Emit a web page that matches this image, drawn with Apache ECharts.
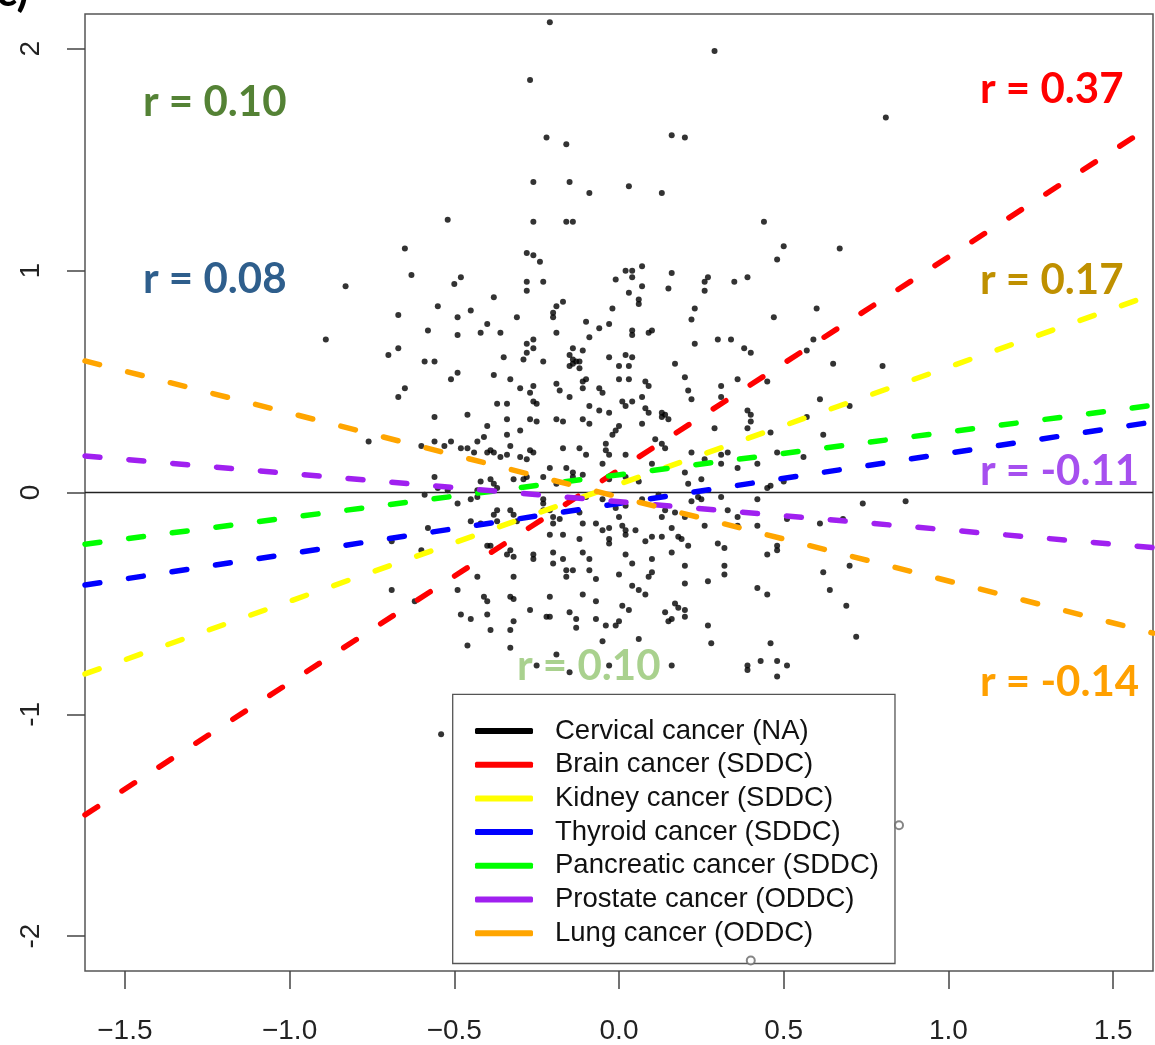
<!DOCTYPE html>
<html>
<head>
<meta charset="utf-8">
<script src="https://cdn.jsdelivr.net/npm/echarts@6/dist/echarts.min.js"></script>
<style>
html,body{margin:0;padding:0;background:#fff;}
#chart{width:1155px;height:1045px;}
</style>
</head>
<body>
<div id="chart"></div>
<script>
// ---- data ----
const xRange = [-1.621, 1.621];
const yRange = [-2.157, 2.157];
const xTicks = [-1.5, -1.0, -0.5, 0.0, 0.5, 1.0, 1.5];
const xTickLabels = ['\u22121.5', '\u22121.0', '\u22120.5', '0.0', '0.5', '1.0', '1.5'];
const yTicks = [-2, -1, 0, 1, 2];
const yTickLabels = ['-2', '-1', '0', '1', '2'];

const seriesNames = ['Cervical cancer (NA)', 'Brain cancer (SDDC)', 'Kidney cancer (SDDC)', 'Thyroid cancer (SDDC)',
  'Pancreatic cancer (SDDC)', 'Prostate cancer (ODDC)', 'Lung cancer (ODDC)'];
const seriesColors = ['#000000', '#FF0000', '#FFFF00', '#0000FF', '#00FF00', '#A020F0', '#FFA500'];
// fitted line values at the left (x = xRange[0]) and right (x = xRange[1]) edges
const fitLeft = [0, -1.453, -0.818, -0.417, -0.233, 0.165, 0.593];
const fitRight = [0, 1.658, 0.893, 0.318, 0.393, -0.248, -0.634];

const rLabels = ['r = 0.10', 'r = 0.08', 'r = 0.37', 'r = 0.17', 'r = -0.11', 'r = 0.10', 'r = -0.14'];
const rColors = ['#548235', '#2E5E8C', '#FF0000', '#BF9000', '#A64FEF', '#A9D18E', '#FFA000'];

const cervicalPoints = [
[-0.21,2.12],[0.29,1.99],[-0.27,1.86],[0.16,1.61],[0.20,1.60],[-0.22,1.60],[-0.16,1.57],[-0.26,1.40],[-0.15,1.40],[-0.09,1.35],
[0.03,1.38],[0.13,1.35],[-0.52,1.23],[-0.26,1.22],[-0.16,1.22],[-0.14,1.22],[0.44,1.22],[-0.65,1.10],[-0.28,1.08],[-0.26,1.07],
[-0.24,1.04],[0.48,1.05],[-0.63,0.98],[-0.48,0.97],[-0.50,0.94],[-0.28,0.95],[-0.23,0.95],[-0.28,0.91],[-0.01,0.96],[0.02,1.00],
[0.04,1.00],[0.07,1.02],[0.04,0.97],[0.07,0.93],[0.03,0.90],[0.06,0.87],[0.16,0.99],[0.15,0.92],[0.27,0.97],[0.26,0.95],
[0.26,0.91],[0.35,0.95],[0.39,0.97],[-0.38,0.88],[0.81,1.69],[0.50,1.11],[0.67,1.10],[-0.83,0.93],[-0.89,0.69],[-0.67,0.80],
[-0.70,0.62],[-0.67,0.65],[-0.67,0.43],[-0.76,0.23],[-0.69,-0.22],[0.06,0.85],[-0.55,0.84],[-0.49,0.79],[-0.45,0.82],[-0.31,0.79],
[-0.19,0.84],[-0.17,0.86],[-0.20,0.81],[-0.20,0.79],[-0.02,0.83],[-0.10,0.77],[-0.03,0.76],[-0.06,0.74],[0.04,0.73],[0.04,0.71],
[0.09,0.72],[0.10,0.73],[0.22,0.78],[0.23,0.83],[0.30,0.69],[0.34,0.69],[0.47,0.79],[-0.58,0.73],[-0.49,0.71],[-0.42,0.72],
[-0.40,0.76],[-0.36,0.72],[-0.19,0.72],[-0.09,0.70],[-0.59,0.59],[-0.56,0.59],[-0.51,0.51],[-0.49,0.54],[-0.38,0.53],[-0.35,0.61],
[-0.28,0.67],[-0.26,0.69],[-0.26,0.65],[-0.28,0.63],[-0.29,0.60],[-0.23,0.59],[-0.14,0.65],[-0.11,0.64],[-0.15,0.62],[-0.14,0.60],
[-0.13,0.59],[-0.12,0.59],[-0.15,0.57],[-0.14,0.58],[-0.12,0.56],[-0.03,0.61],[0.02,0.62],[0.04,0.61],[0.00,0.57],[0.03,0.57],
[0.17,0.58],[0.23,0.67],[0.38,0.65],[0.40,0.63],[-0.65,0.47],[-0.33,0.51],[-0.30,0.47],[-0.26,0.48],[-0.27,0.45],[-0.26,0.41],
[-0.25,0.40],[-0.19,0.49],[-0.18,0.46],[-0.15,0.43],[-0.10,0.51],[-0.11,0.50],[-0.11,0.47],[-0.06,0.47],[-0.05,0.45],[0.00,0.51],
[0.03,0.51],[0.08,0.50],[0.09,0.48],[0.20,0.52],[0.21,0.46],[0.22,0.42],[0.31,0.48],[0.31,0.43],[0.36,0.51],[0.45,0.50],
[-0.37,0.40],[-0.34,0.40],[-0.56,0.34],[-0.46,0.35],[-0.40,0.30],[-0.34,0.33],[-0.27,0.33],[-0.25,0.32],[-0.19,0.33],[-0.17,0.32],
[-0.11,0.33],[-0.09,0.31],[-0.09,0.39],[-0.06,0.37],[-0.03,0.36],[0.01,0.41],[0.02,0.39],[0.04,0.41],[0.07,0.43],[0.08,0.38],
[0.09,0.36],[0.13,0.36],[0.14,0.35],[0.13,0.34],[0.15,0.33],[0.07,0.31],[0.00,0.30],[-0.01,0.28],[-0.02,0.26],[0.29,0.29],
[0.39,0.37],[0.40,0.35],[0.40,0.32],[0.39,0.29],[0.46,0.27],[-0.56,0.23],[-0.53,0.21],[-0.51,0.23],[-0.60,0.21],[-0.48,0.20],
[-0.46,0.20],[-0.44,0.18],[-0.43,0.23],[-0.41,0.25],[-0.40,0.18],[-0.39,0.19],[-0.38,0.18],[-0.36,0.16],[-0.34,0.26],[-0.33,0.21],
[-0.34,0.17],[-0.30,0.28],[-0.30,0.16],[-0.28,0.15],[-0.27,0.19],[-0.26,0.18],[-0.17,0.20],[-0.12,0.20],[-0.10,0.17],[-0.04,0.22],
[-0.04,0.19],[-0.03,0.17],[0.02,0.17],[0.11,0.24],[0.13,0.22],[0.14,0.20],[0.22,0.18],[0.31,0.17],[0.33,0.18],[-0.05,0.13],
[-0.16,0.11],[-0.14,0.09],[-0.21,0.11],[0.10,0.13],[0.26,0.15],[0.31,0.13],[0.36,0.11],[0.42,0.13],[0.48,0.18],[-0.56,0.07],
[-0.42,0.05],[-0.39,0.06],[-0.38,0.04],[-0.32,0.06],[-0.29,0.06],[-0.28,0.07],[-0.23,0.07],[-0.19,0.04],[-0.14,0.07],[-0.11,0.08],
[-0.03,0.06],[0.02,0.07],[0.06,0.05],[0.20,0.09],[0.21,0.04],[0.25,0.06],[0.45,0.02],[0.46,0.03],[-0.55,0.02],[-0.52,0.01],
[-0.43,0.01],[-0.37,0.02],[-0.59,-0.01],[-0.45,-0.03],[-0.43,-0.02],[-0.23,-0.03],[-0.23,-0.05],[-0.23,-0.08],[-0.21,-0.08],[-0.10,-0.02],
[-0.05,-0.03],[0.07,-0.03],[0.12,-0.01],[0.24,-0.02],[0.25,-0.03],[0.31,-0.02],[0.42,-0.03],[-0.49,-0.05],[-0.37,-0.08],[-0.33,-0.08],
[-0.18,-0.12],[-0.12,-0.09],[-0.11,-0.14],[-0.01,-0.07],[0.00,-0.11],[0.02,-0.06],[0.14,-0.08],[0.13,-0.11],[0.17,-0.09],[0.22,-0.04],
[0.20,-0.11],[0.33,-0.08],[0.36,-0.11],[-0.45,-0.13],[-0.42,-0.14],[-0.38,-0.10],[-0.37,-0.13],[-0.32,-0.10],[-0.31,-0.13],[-0.20,-0.11],
[-0.20,-0.14],[-0.07,-0.14],[-0.05,-0.17],[-0.03,-0.16],[0.01,-0.15],[0.02,-0.17],[0.02,-0.19],[0.05,-0.17],[0.16,-0.16],[0.26,-0.15],
[0.36,-0.15],[0.42,-0.15],[-0.58,-0.16],[-0.40,-0.24],[-0.39,-0.24],[-0.21,-0.19],[-0.17,-0.19],[-0.12,-0.21],[-0.03,-0.21],[-0.03,-0.23],
[0.08,-0.22],[0.10,-0.20],[0.13,-0.20],[0.18,-0.20],[0.19,-0.21],[0.21,-0.24],[0.30,-0.23],[0.32,-0.25],[-0.60,-0.26],[-0.34,-0.28],
[-0.33,-0.26],[-0.32,-0.29],[-0.26,-0.28],[-0.26,-0.30],[-0.20,-0.27],[-0.17,-0.30],[-0.11,-0.27],[-0.09,-0.30],[0.02,-0.28],[0.10,-0.30],
[0.16,-0.27],[0.20,-0.33],[0.32,-0.33],[0.45,-0.28],[-0.20,-0.32],[-0.16,-0.35],[-0.14,-0.35],[-0.09,-0.35],[-0.32,-0.38],[-0.16,-0.38],
[-0.43,-0.38],[0.00,-0.37],[0.10,-0.36],[0.09,-0.38],[0.32,-0.37],[0.60,0.83],[0.59,0.69],[0.57,0.64],[0.65,0.58],[0.80,0.57],
[0.61,0.42],[0.70,0.39],[0.57,0.34],[0.62,0.26],[0.56,0.16],[0.50,0.05],[0.74,-0.05],[0.87,-0.04],[0.51,-0.12],[0.61,-0.14],
[0.68,-0.12],[0.48,-0.24],[0.48,-0.26],[0.62,-0.36],[0.70,-0.33],[-0.07,-0.39],[0.04,-0.32],[0.27,-0.40],[0.20,-0.41],[-0.69,-0.44],
[-0.62,-0.49],[-0.49,-0.44],[-0.41,-0.47],[-0.40,-0.49],[-0.33,-0.47],[-0.32,-0.48],[-0.21,-0.47],[-0.11,-0.46],[-0.07,-0.49],[0.04,-0.42],
[0.06,-0.44],[0.08,-0.46],[0.01,-0.51],[0.03,-0.53],[0.17,-0.50],[0.18,-0.52],[0.20,-0.53],[0.14,-0.54],[0.42,-0.43],[0.45,-0.46],
[-0.48,-0.55],[-0.45,-0.57],[-0.40,-0.55],[-0.32,-0.58],[-0.27,-0.53],[-0.22,-0.56],[-0.21,-0.56],[-0.15,-0.54],[-0.13,-0.57],[-0.07,-0.57],
[-0.04,-0.60],[-0.01,-0.60],[0.00,-0.58],[0.16,-0.57],[0.15,-0.58],[0.20,-0.56],[-0.39,-0.62],[-0.33,-0.62],[-0.13,-0.61],[0.27,-0.60],
[-0.46,-0.69],[-0.33,-0.70],[-0.05,-0.67],[0.06,-0.66],[0.28,-0.68],[0.46,-0.68],[-0.19,-0.73],[-0.25,-0.78],[-0.15,-0.81],[-0.03,-0.78],
[0.16,-0.78],[0.39,-0.78],[0.39,-0.80],[0.43,-0.76],[0.48,-0.76],[0.48,-0.83],[-0.54,-1.09],[0.64,-0.44],[0.69,-0.51],[0.72,-0.65],
[0.51,-0.78]
];
const hollowPoints = [[0.85,-1.50],[0.40,-2.11]];

// ---- chart ----
const chart = echarts.init(document.getElementById('chart'), null, {renderer: 'canvas'});
const labelFont = 'Liberation Sans, Arial, sans-serif';
const rFont = 'Lato, "Open Sans", sans-serif';

const series = [
  {
    type: 'scatter', name: 'points', data: cervicalPoints, symbol: 'circle', symbolSize: 6,
    itemStyle: {color: '#000'}, silent: true, z: 3
  },
  {
    type: 'scatter', name: 'hollow', data: hollowPoints, symbol: 'emptyCircle', symbolSize: 8,
    itemStyle: {color: '#666', borderColor: '#666', borderWidth: 1}, silent: true, z: 5
  }
];
seriesNames.forEach((name, i) => {
  const isBase = i === 0;
  series.push({
    type: 'line', name: name,
    data: [[xRange[0], fitLeft[i]], [xRange[1], fitRight[i]]],
    showSymbol: false, symbol: 'none', silent: true, z: 4,
    itemStyle: {color: seriesColors[i]},
    lineStyle: isBase
      ? {color: '#222', width: 1.6, type: 'solid'}
      : {color: seriesColors[i], width: 5.5, type: [15, 29], cap: 'round'}
  });
});

const rPos = [[143, 101], [143, 278], [980, 88], [980, 279], [980, 470], [517, 665], [980, 681]];
const graphics = rLabels.map((t, i) => ({
  type: 'text', left: rPos[i][0], top: rPos[i][1] - 20, z: 1,
  style: {text: t, fill: rColors[i], font: 'bold 42px ' + rFont}
}));
graphics.push({
  type: 'text', left: -4, top: -30, z: 1,
  style: {text: 'c)', fill: '#000', font: 'bold 44px ' + rFont}
});

chart.setOption({
  animation: false,
  backgroundColor: '#fff',
  grid: {left: 85, right: 2, top: 14, bottom: 73, show: true, borderColor: '#555', borderWidth: 1.5, backgroundColor: 'transparent'},
  xAxis: {
    type: 'value', min: xRange[0], max: xRange[1],
    axisLine: {show: false, onZero: false},
    splitLine: {show: false},
    axisTick: {show: true, inside: false, length: 18, lineStyle: {color: '#444', width: 1.5}, customValues: xTicks},
    axisLabel: {
      customValues: xTicks, margin: 46, fontSize: 28, fontFamily: labelFont, color: '#222',
      formatter: v => { const k = xTicks.findIndex(t => Math.abs(t - v) < 1e-9); return k >= 0 ? xTickLabels[k] : ''; }
    }
  },
  yAxis: {
    type: 'value', min: yRange[0], max: yRange[1],
    axisLine: {show: false, onZero: false},
    splitLine: {show: false},
    axisTick: {show: true, inside: false, length: 18, lineStyle: {color: '#444', width: 1.5}, customValues: yTicks},
    axisLabel: {
      customValues: yTicks, margin: 40, fontSize: 28, fontFamily: labelFont, color: '#222', rotate: 90,
      formatter: v => { const k = yTicks.findIndex(t => Math.abs(t - v) < 1e-9); return k >= 0 ? yTickLabels[k] : ''; }
    }
  },
  legend: {
    show: true, orient: 'vertical', left: 452.7, top: 694.3,
    padding: [21.7, 16, 15.3, 22.3],
    itemWidth: 58, itemHeight: 6, itemGap: 3.7,
    selectedMode: false,
    backgroundColor: '#fff', borderColor: '#555', borderWidth: 1.3, borderRadius: 0,
    textStyle: {fontSize: 27.5, lineHeight: 30, fontFamily: labelFont, color: '#111', padding: [0, 0, 0, 17]},
    data: seriesNames.map((n, i) => ({name: n, icon: 'roundRect', itemStyle: {color: seriesColors[i]}}))
  },
  graphic: graphics,
  series: series
});
</script>
</body>
</html>
